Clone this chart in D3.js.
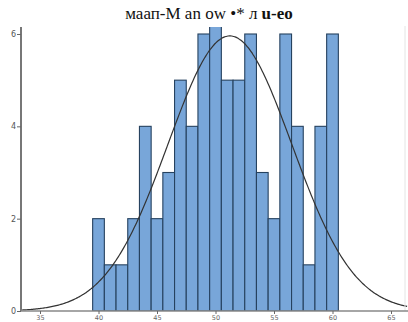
<!DOCTYPE html>
<html>
<head>
<meta charset="utf-8">
<script src="https://cdn.jsdelivr.net/npm/d3@7"></script>
<style>
  body { margin: 0; background: #fff; }
  svg { display: block; }
</style>
</head>
<body>
<svg width="408" height="322"></svg>
<script>
// histogram data: bin centres and counts
const binCenters = d3.range(40, 61);
const counts = [2, 1, 1, 2, 4, 2, 3, 5, 4, 6, 7, 5, 5, 6, 3, 2, 6, 4, 1, 4, 6];
const xTicks = [35, 40, 45, 50, 55, 60, 65];
const yTicks = [0, 2, 4, 6];

const svg = d3.select("svg");

const x = d3.scaleLinear().domain([35, 65]).range([40, 391]);
const y = d3.scaleLinear().domain([0, 6]).range([311, 34]);

// clip for the plot area (tallest bar runs off the top)
svg.append("clipPath").attr("id", "plot")
  .append("rect").attr("x", 21).attr("y", 27).attr("width", 387).attr("height", 284);

const g = svg.append("g").attr("clip-path", "url(#plot)");

g.selectAll(".bar")
  .data(binCenters.map((c, i) => ({ c, n: counts[i] })))
  .enter().append("rect")
  .attr("class", "bar")
  .attr("x", d => x(d.c - 0.5))
  .attr("width", d => x(d.c + 0.5) - x(d.c - 0.5))
  .attr("y", d => y(d.n))
  .attr("height", d => y(0) - y(d.n))
  .attr("fill", "#78a6d9")
  .attr("stroke", "#26425f")
  .attr("stroke-width", 1.1);

// fitted normal curve from the data
const total = d3.sum(counts);
const mean = d3.sum(binCenters, (c, i) => c * counts[i]) / total;
const sd = Math.sqrt(d3.sum(binCenters, (c, i) => counts[i] * (c - mean) ** 2) / total);
const dens = v => total / (sd * Math.sqrt(2 * Math.PI)) * Math.exp(-0.5 * ((v - mean) / sd) ** 2);
const curveXs = d3.range(x.invert(21), x.invert(408), 0.1);

g.append("path")
  .datum(curveXs)
  .attr("fill", "none")
  .attr("stroke", "#333")
  .attr("stroke-width", 1.2)
  .attr("d", d3.line().x(d => x(d)).y(d => y(dens(d))).curve(d3.curveBasis));

// right frame line
svg.append("line")
  .attr("x1", 405).attr("x2", 405).attr("y1", 26).attr("y2", 311)
  .attr("stroke", "#e4e4e4");

// axes
const yAxis = svg.append("g")
  .attr("transform", "translate(21,0)")
  .call(d3.axisLeft(y).tickValues(yTicks).tickSize(4).tickFormat(d3.format("d")));
yAxis.select(".domain").attr("d", "M0,27V311").attr("stroke", "#777").attr("stroke-width", 2);
yAxis.selectAll(".tick line").attr("stroke", "#666");
yAxis.selectAll(".tick text")
  .attr("font-family", "DejaVu Sans, sans-serif")
  .attr("font-size", 8).attr("fill", "#555").attr("x", -5);

const xAxis = svg.append("g")
  .attr("transform", "translate(0,311)")
  .call(d3.axisBottom(x).tickValues(xTicks).tickSize(3));
xAxis.select(".domain").attr("d", "M21,0H408").attr("stroke", "#888").attr("stroke-width", 1.5);
xAxis.selectAll(".tick line").attr("stroke", "#666");
xAxis.selectAll(".tick text")
  .attr("font-family", "DejaVu Sans, sans-serif")
  .attr("font-size", 6.5).attr("fill", "#666").attr("y", 4);

// title
const title = svg.append("text")
  .attr("x", 209).attr("y", 19)
  .attr("text-anchor", "middle")
  .attr("font-family", "Liberation Serif, serif")
  .attr("font-size", 17).attr("fill", "#111");
title.append("tspan").text("маап-M an ow •* л ");
title.append("tspan").attr("font-weight", "bold").text("u-eo");
</script>
</body>
</html>
